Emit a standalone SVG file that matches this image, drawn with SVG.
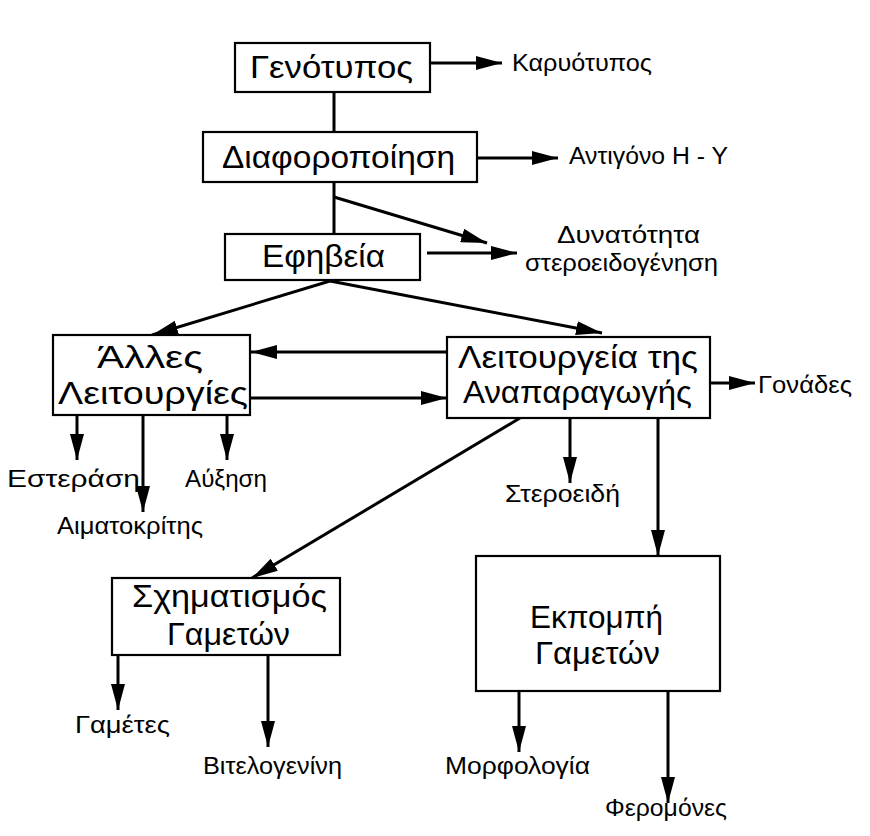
<svg xmlns="http://www.w3.org/2000/svg" width="870" height="836" viewBox="0 0 870 836">
<style>
.box{fill:#fff;stroke:#000;stroke-width:2.2}
.bt{font-family:"Liberation Sans",Arial,sans-serif;font-size:31px;fill:#000}
.lb{font-family:"Liberation Sans",Arial,sans-serif;font-size:23px;fill:#000}
.c{fill:none;stroke:#000;stroke-width:3}
.a{marker-end:url(#ah)}
</style>
<defs>
<marker id="ah" markerUnits="userSpaceOnUse" markerWidth="28" markerHeight="14" refX="26" refY="7" orient="auto">
<path d="M0,0 L26,7 L0,14 z" fill="#000"/>
</marker>
</defs>
<rect width="870" height="836" fill="#fff"/>
<g id="connectors">
<path class="c a" d="M430,63 H502"/>
<path class="c" d="M334,92 V132"/>
<path class="c a" d="M477,158 H558"/>
<path class="c" d="M334,182 V234"/>
<path class="c a" d="M334,197 L487,243"/>
<path class="c a" d="M427,253 H517"/>
<path class="c a" d="M330,281 L152,335"/>
<path class="c a" d="M330,281 L602,333"/>
<path class="c a" d="M447,352 H251"/>
<path class="c a" d="M250,398 H447"/>
<path class="c a" d="M710,383 H755"/>
<path class="c a" d="M77,415 V460"/>
<path class="c a" d="M143,415 V512"/>
<path class="c a" d="M227,415 V460"/>
<path class="c a" d="M570,418 V483"/>
<path class="c a" d="M658,418 V556"/>
<path class="c a" d="M520,418 L252,578"/>
<path class="c a" d="M118,655 V710"/>
<path class="c a" d="M268,655 V747"/>
<path class="c a" d="M519,691 V752"/>
<path class="c a" d="M668,691 V803"/>
</g>
<g id="genotypos">
<rect class="box" x="235" y="43" width="195" height="49"/>
<text class="bt" x="250" y="78" textLength="163" lengthAdjust="spacingAndGlyphs">Γενότυπος</text>
</g>
<g id="karyotypos">
<text class="lb" x="512" y="71" textLength="140" lengthAdjust="spacingAndGlyphs">Καρυότυπος</text>
</g>
<g id="diaforopoiisi">
<rect class="box" x="203" y="132" width="274" height="50"/>
<text class="bt" x="222" y="168" textLength="233" lengthAdjust="spacingAndGlyphs">Διαφοροποίηση</text>
</g>
<g id="antigono">
<text class="lb" x="569" y="164" textLength="159" lengthAdjust="spacingAndGlyphs">Αντιγόνο Η - Υ</text>
</g>
<g id="efiveia">
<rect class="box" x="225" y="234" width="195" height="46"/>
<text class="bt" x="262" y="267" textLength="123" lengthAdjust="spacingAndGlyphs">Εφηβεία</text>
</g>
<g id="dynatotita">
<text class="lb" x="557" y="243" textLength="143" lengthAdjust="spacingAndGlyphs">Δυνατότητα</text>
<text class="lb" x="525" y="271" textLength="193" lengthAdjust="spacingAndGlyphs">στεροειδογένηση</text>
</g>
<g id="alles">
<rect class="box" x="53" y="335" width="197" height="80"/>
<text class="bt" x="97" y="368" textLength="106" lengthAdjust="spacingAndGlyphs">Άλλες</text>
<text class="bt" x="58" y="404" textLength="190" lengthAdjust="spacingAndGlyphs">Λειτουργίες</text>
</g>
<g id="leitourgeia">
<rect class="box" x="447" y="337" width="263" height="81"/>
<text class="bt" x="458" y="368" textLength="240" lengthAdjust="spacingAndGlyphs">Λειτουργεία της</text>
<text class="bt" x="463" y="403" textLength="229" lengthAdjust="spacingAndGlyphs">Αναπαραγωγής</text>
</g>
<g id="gonades">
<text class="lb" x="758" y="393" textLength="94" lengthAdjust="spacingAndGlyphs">Γονάδες</text>
</g>
<g id="esterasi">
<text class="lb" x="7" y="487" textLength="133" lengthAdjust="spacingAndGlyphs">Εστεράση</text>
</g>
<g id="afxisi">
<text class="lb" x="185" y="487" textLength="82" lengthAdjust="spacingAndGlyphs">Αύξηση</text>
</g>
<g id="aimatokritis">
<text class="lb" x="57" y="534" textLength="146" lengthAdjust="spacingAndGlyphs">Αιματοκρίτης</text>
</g>
<g id="steroeidi">
<text class="lb" x="505" y="502" textLength="115" lengthAdjust="spacingAndGlyphs">Στεροειδή</text>
</g>
<g id="schimatismos">
<rect class="box" x="112" y="578" width="228" height="77"/>
<text class="bt" x="132" y="607" textLength="195" lengthAdjust="spacingAndGlyphs">Σχηματισμός</text>
<text class="bt" x="167" y="645" textLength="123" lengthAdjust="spacingAndGlyphs">Γαμετών</text>
</g>
<g id="ekpompi">
<rect class="box" x="476" y="556" width="244" height="135"/>
<text class="bt" x="530" y="628" textLength="133" lengthAdjust="spacingAndGlyphs">Εκπομπή</text>
<text class="bt" x="535" y="664" textLength="125" lengthAdjust="spacingAndGlyphs">Γαμετών</text>
</g>
<g id="gametes">
<text class="lb" x="75" y="733" textLength="95" lengthAdjust="spacingAndGlyphs">Γαμέτες</text>
</g>
<g id="vitelogenini">
<text class="lb" x="203" y="774" textLength="139" lengthAdjust="spacingAndGlyphs">Βιτελογενίνη</text>
</g>
<g id="morfologia">
<text class="lb" x="445" y="774" textLength="145" lengthAdjust="spacingAndGlyphs">Μορφολογία</text>
</g>
<g id="feromones">
<text class="lb" x="605" y="816" textLength="122" lengthAdjust="spacingAndGlyphs">Φερομόνες</text>
</g>
</svg>
